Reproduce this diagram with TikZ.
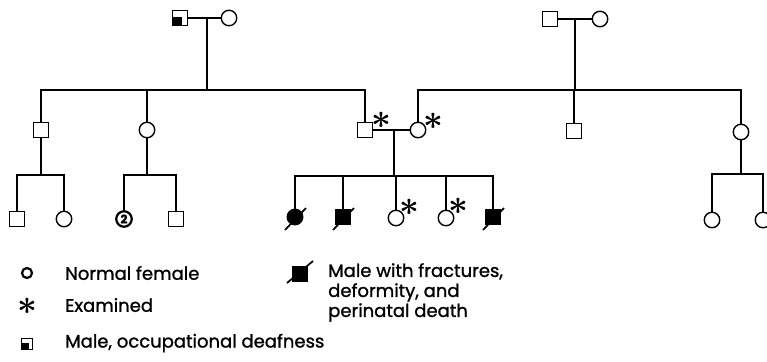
\documentclass[tikz,border=0pt]{standalone}
\usepackage{bm}
\usepackage{fontspec}
\setmainfont{Poppins}[FakeBold=1.2]
\usetikzlibrary{calc}

\tikzset{
  male/.style={draw, rectangle, minimum size=15pt, inner sep=0pt, line width=1.4pt},
  female/.style={draw, circle, minimum size=15.5pt, inner sep=0pt, line width=1.4pt},
  affected/.style={fill=black},
  kin/.style={line width=2.5pt},
  seen/.style={scale=2.0, inner sep=0pt},
  legtext/.style={anchor=west, inner sep=0pt, align=left},
}
\newcommand{\starmark}{$\bm{\ast}$}

\begin{document}
\begin{tikzpicture}[x=1pt, y=-1pt, every node/.style={font=\fontsize{18}{20}\selectfont}]
  \useasboundingbox (0,0) rectangle (767,361);
  % generation I
  \node[male] (i1) at (180,18) {};
  \fill (i1.south west) rectangle ($(i1.center)+(2,-1)$);
  \node[female] (i2) at (229,18) {};
  \node[male] (i3) at (550,19) {};
  \node[female] (i4) at (600,19) {};
  % generation II
  \node[male] (ii1) at (41,130) {};
  \node[female] (ii2) at (147,130) {};
  \node[male] (ii3) at (365,130) {};
  \node[female] (ii4) at (418,130) {};
  \node[male] (ii5) at (574,131) {};
  \node[female] (ii6) at (741,132) {};
  % generation III
  \node[male] (iii1) at (17,219) {};
  \node[female] (iii2) at (64,219) {};
  \node[female, line width=2.2pt, font=\bfseries\fontsize{12}{12}\selectfont] (iii3) at (124,219) {2};
  \node[male] (iii4) at (176,219) {};
  \node[female, affected] (iii5) at (295,217) {};
  \node[male, affected] (iii6) at (343,217) {};
  \node[female] (iii7) at (396,218) {};
  \node[female] (iii8) at (446,218) {};
  \node[male, affected] (iii9) at (493,217) {};
  \node[female] (iii10) at (712,220) {};
  \node[female] (iii11) at (763,220) {};
  % marriage and sibship points
  \coordinate (m1) at (207,18);  \coordinate (s1) at (207,90);
  \coordinate (m2) at (575,19);  \coordinate (s2) at (575,90);
  \coordinate (m3) at (394,130); \coordinate (s3) at (394,176);
  \coordinate (s4) at (41,175);  \coordinate (s5) at (147,175);
  \coordinate (s6) at (741,174);
  \draw[kin] (i1) -- (i2);
  \draw[kin] (m1) -- (s1);
  \draw[kin] (ii1) |- (s1) -| (ii3);
  \draw[kin] (ii2) -- (ii2 |- s1);
  \draw[kin] (i3) -- (i4);
  \draw[kin] (m2) -- (s2);
  \draw[kin] (ii4) |- (s2) -| (ii6);
  \draw[kin] (ii5) -- (ii5 |- s2);
  \draw[kin] (ii3) -- (ii4);
  \draw[kin] (m3) -- (s3);
  \draw[kin] (iii5) |- (s3) -| (iii9);
  \foreach \n in {iii6,iii7,iii8}
    \draw[kin] (\n) -- (\n |- s3);
  \draw[kin] (ii1) -- (s4);
  \draw[kin] (iii1) |- (s4) -| (iii2);
  \draw[kin] (ii2) -- (s5);
  \draw[kin] (iii3) |- (s5) -| (iii4);
  \draw[kin] (ii6) -- (s6);
  \draw[kin] (iii10) |- (s6) -| (iii11);
  % perinatal deaths
  \foreach \n in {iii5,iii6,iii9}
    \draw[line width=1.7pt] ($(\n)+(-10,13)$) -- ($(\n)+(11,-9)$);
  % examined
  \node[seen] (e1) at (381,120) {\starmark};
  \node[seen] (e2) at (433,121) {\starmark};
  \node[seen] (e3) at (409,207) {\starmark};
  \node[seen] (e4) at (458,206) {\starmark};
  % key
  \node[female, minimum size=10pt, line width=2.2pt] (lg1) at (27,273) {};
  \node[legtext] (lt1) at (65,273) {Normal female};
  \node[seen] (lg2) at (27,306) {\starmark};
  \node[legtext] (lt2) at (65,305) {Examined};
  \node[male, minimum size=11pt] (lg3) at (27,344) {};
  \fill (lg3.south west) rectangle ($(lg3.center)+(1.5,-1)$);
  \node[legtext] (lt3) at (65,343) {Male, occupational deafness};
  \node[male, affected] (lg4) at (300,274) {};
  \draw[line width=1.7pt] ($(lg4)+(-13,9)$) -- ($(lg4)+(13,-13)$);
  \node[legtext, anchor=north west] (lt4) at (328,263) {Male with fractures,\\deformity, and\\perinatal death};
\end{tikzpicture}
\end{document}
